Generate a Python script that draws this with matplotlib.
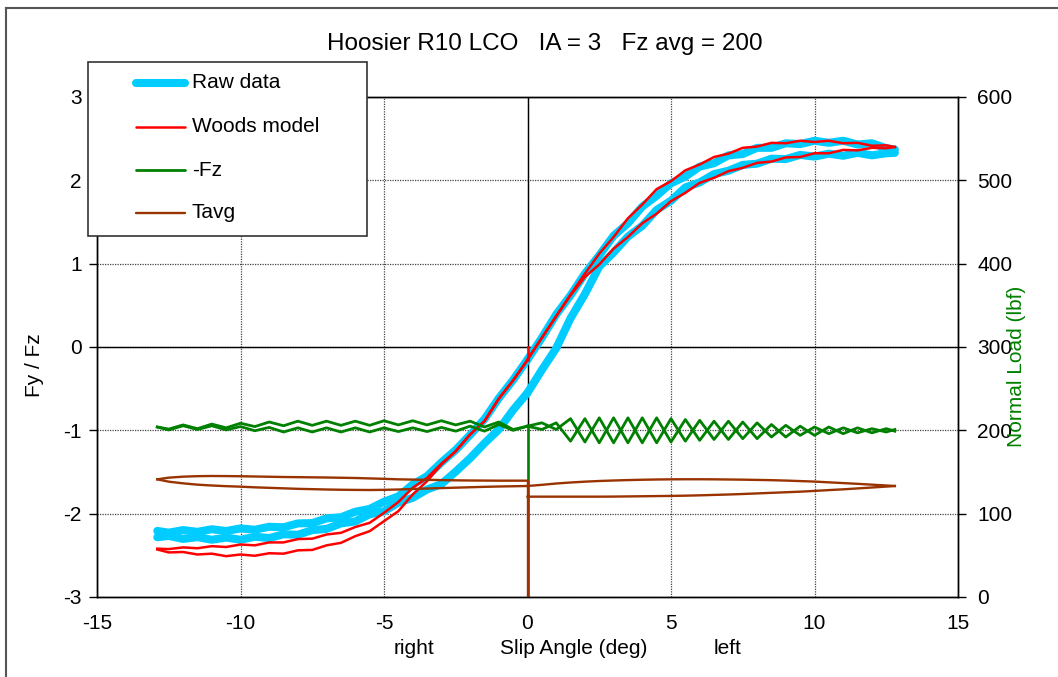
import matplotlib
matplotlib.use("Agg")
import matplotlib.pyplot as plt
from matplotlib.lines import Line2D
from matplotlib.patches import Rectangle

plt.rcParams['font.family'] = ['Liberation Sans', 'DejaVu Sans']
plt.rcParams['axes.unicode_minus'] = False

# ---------------- data ----------------
title = "Hoosier R10 LCO   IA = 3   Fz avg = 200"

sa_left = [-12.9, -12.5, -12.0, -11.5, -11.0, -10.5, -10.0, -9.5, -9.0, -8.5, -8.0, -7.5,
           -7.0, -6.5, -6.0, -5.5, -5.0, -4.5, -4.0, -3.5, -3.0, -2.5, -2.0, -1.5, -1.0, -0.5, 0.0]
sa_right = [0.0, 0.5, 1.0, 1.5, 2.0, 2.5, 3.0, 3.5, 4.0, 4.5, 5.0, 5.5, 6.0, 6.5, 7.0, 7.5,
            8.0, 8.5, 9.0, 9.5, 10.0, 10.5, 11.0, 11.5, 12.0, 12.5, 12.8]

# Raw data Fy/Fz, upper branch (A) and lower branch (B)
raw_a_left = [-2.207, -2.228, -2.197, -2.218, -2.187, -2.208, -2.177, -2.193, -2.157, -2.163, -2.117,
              -2.113, -2.057, -2.043, -1.977, -1.943, -1.857, -1.793, -1.65, -1.55, -1.385, -1.235,
              -1.055, -0.865, -0.615, -0.395, -0.15]
raw_b_left = [-2.283, -2.267, -2.303, -2.282, -2.313, -2.287, -2.313, -2.277, -2.293, -2.247, -2.253,
              -2.197, -2.183, -2.117, -2.093, -2.007, -1.973, -1.867, -1.81, -1.71, -1.645, -1.495,
              -1.335, -1.155, -0.99, -0.755, -0.55]
raw_a_right = [-0.15, 0.11, 0.39, 0.62, 0.88, 1.10, 1.335, 1.485, 1.685, 1.815, 1.965, 2.045, 2.165,
               2.205, 2.30, 2.315, 2.39, 2.39, 2.445, 2.435, 2.475, 2.45, 2.475, 2.43, 2.445, 2.385, 2.37]
raw_b_right = [-0.55, -0.275, -0.015, 0.345, 0.635, 0.965, 1.135, 1.325, 1.455, 1.645, 1.755, 1.915,
               1.975, 2.075, 2.115, 2.185, 2.20, 2.26, 2.255, 2.305, 2.285, 2.32, 2.295, 2.33, 2.30,
               2.325, 2.33]

# Woods model Fy/Fz
model_a_left = [-2.42, -2.425, -2.405, -2.415, -2.39, -2.40, -2.37, -2.38, -2.345, -2.345, -2.305,
                -2.30, -2.25, -2.23, -2.16, -2.11, -1.99, -1.86, -1.69, -1.57, -1.40, -1.25, -1.05,
                -0.89, -0.62, -0.40, -0.156]
model_b_left = [-2.43, -2.465, -2.46, -2.49, -2.48, -2.51, -2.49, -2.505, -2.475, -2.48, -2.44,
                -2.435, -2.38, -2.35, -2.27, -2.21, -2.09, -1.97, -1.77, -1.61, -1.41, -1.25, -1.05,
                -0.89, -0.62, -0.40, -0.156]
model_a_right = [-0.15, 0.11, 0.37, 0.63, 0.88, 1.12, 1.32, 1.545, 1.71, 1.895, 1.99, 2.12, 2.19,
                 2.28, 2.32, 2.39, 2.405, 2.45, 2.445, 2.475, 2.46, 2.475, 2.445, 2.45, 2.415, 2.42, 2.40]
model_b_right = [-0.15, 0.11, 0.37, 0.62, 0.84, 0.99, 1.18, 1.32, 1.485, 1.60, 1.75, 1.85, 1.97,
                 2.03, 2.11, 2.15, 2.21, 2.225, 2.275, 2.28, 2.325, 2.325, 2.365, 2.36, 2.39, 2.385, 2.40]

# -Fz (lbf), two passes
fz_a_left = [204, 201.5, 206.5, 202, 207.5, 203, 208.5, 204.5, 210, 205.5, 211, 206, 211, 206, 211,
             206, 211.5, 206.5, 211.5, 206.5, 211.5, 206.5, 211, 204, 210, 201, 205]
fz_b_left = [204, 200.5, 205.5, 201, 205.5, 200.5, 204.5, 199.5, 203.5, 198, 203, 198, 203, 198, 203,
             198, 203, 198.5, 203, 198.5, 203.5, 199, 205, 199, 207, 200, 205]
fz_a_right = [205, 209, 201, 214, 186, 215, 185, 215, 185, 215, 186, 213, 188, 211, 189, 210, 190,
              207, 192, 205, 194, 204, 196, 203, 197, 202, 199]
fz_b_right = [205, 201, 209, 187, 214, 185, 215, 185, 215, 185, 214, 187, 212, 189, 211, 190, 209,
              192, 206, 194, 204, 196, 203, 197, 202, 198, 201]

# Tavg, two passes
tavg_a_left = [141.2, 138.4, 136.4, 134.8, 133.8, 133.0, 132.4, 131.6, 131.0, 130.4, 129.8, 129.4,
               129.0, 128.7, 128.5, 128.4, 128.6, 129.0, 129.6, 130.2, 130.7, 131.2, 131.7, 132.2,
               132.6, 132.9, 133.2]
tavg_a_right = [133.2, 134.6, 136.2, 137.4, 138.4, 139.2, 139.8, 140.3, 140.7, 141.0, 141.2, 141.3,
                141.3, 141.2, 141.0, 140.8, 140.5, 140.2, 139.7, 139.1, 138.5, 137.6, 136.7, 135.8,
                134.8, 133.8, 133.2]
tavg_b_left = [141.2, 143.2, 144.4, 145.0, 145.2, 145.1, 144.9, 144.6, 144.3, 144.0, 143.8, 143.6,
               143.4, 143.1, 142.8, 142.3, 141.8, 141.2, 140.9, 140.6, 140.3, 140.0, 139.8, 139.7,
               139.6, 139.6, 139.6]
tavg_b_right = [120.4, 120.4, 120.4, 120.4, 120.4, 120.4, 120.5, 120.7, 120.9, 121.1, 121.3, 121.6,
                122.0, 122.5, 123.0, 123.6, 124.3, 125.0, 125.7, 126.4, 127.3, 128.3, 129.2, 130.3,
                131.4, 132.5, 133.2]

# final (zero-load) sample of the run
end_slip = 0.0
end_model = 0.0
end_fz = 0.0
end_tavg = 0.0

x_ticks = [-15, -10, -5, 0, 5, 10, 15]
y_ticks = [-3, -2, -1, 0, 1, 2, 3]
y2_ticks = [0, 100, 200, 300, 400, 500, 600]
legend_labels = ["Raw data", "Woods model", "-Fz", "Tavg"]

# ---------------- styling ----------------
C_RAW = '#00CCFF'
C_MOD = '#FF0000'
C_FZ = '#008000'
C_T = '#993300'
FS = 15

W, H = 1058, 677
fig = plt.figure(figsize=(W / 100, H / 100), dpi=100)
L, R, T, B = 97, 958, 97, 597
ax = fig.add_axes([L / W, 1 - B / H, (R - L) / W, (B - T) / H])
ax.set_xlim(-15, 15)
ax.set_ylim(-3, 3)
ax.set_xticks(x_ticks)
ax.set_yticks(y_ticks)
ax.set_axisbelow(True)
ax.grid(True, ls=(0, (1, 1)), color='#444444', lw=0.9)
ax.axhline(0, color='black', lw=1.0, zorder=0.8)
ax.axvline(0, color='black', lw=1.0, zorder=0.8)

for sa, ys in ((sa_left, raw_a_left), (sa_left, raw_b_left), (sa_right, raw_a_right), (sa_right, raw_b_right)):
    ax.plot(sa, ys, color=C_RAW, lw=5.8, solid_capstyle='round', solid_joinstyle='round', zorder=2)
for sa, ys in ((sa_left, model_a_left), (sa_left, model_b_left), (sa_right, model_a_right), (sa_right, model_b_right)):
    ax.plot(sa, ys, color=C_MOD, lw=1.8, zorder=3)
ax.plot([sa_left[-1], end_slip], [model_a_left[-1], end_model], color=C_MOD, lw=1.8, zorder=3)

ax2 = ax.twinx()
ax2.set_ylim(0, 600)
ax2.set_yticks(y2_ticks)
for sa, ys in ((sa_left, fz_a_left), (sa_left, fz_b_left), (sa_right, fz_a_right), (sa_right, fz_b_right)):
    ax2.plot(sa, ys, color=C_FZ, lw=2.0)
ax2.plot([sa_left[-1], end_slip], [fz_b_left[-1], end_fz], color=C_FZ, lw=1.8)
for sa, ys in ((sa_left, tavg_a_left), (sa_right, tavg_a_right), (sa_left, tavg_b_left), (sa_right, tavg_b_right)):
    ax2.plot(sa, ys, color=C_T, lw=1.7)
ax2.plot([sa_left[-1], end_slip], [tavg_b_left[-1], end_tavg], color=C_T, lw=1.7)

for a in (ax, ax2):
    for s in a.spines.values():
        s.set_color('black')
        s.set_linewidth(1.0)
ax.tick_params(axis='x', length=0, pad=12, labelsize=FS)
ax.tick_params(axis='y', direction='out', length=6, width=1, pad=5, labelsize=FS)
ax2.tick_params(axis='y', direction='out', length=6, width=1, pad=8, labelsize=FS)

ax.set_xlabel("Slip Angle (deg)", fontsize=FS)
ax.xaxis.set_label_coords((574 - L) / (R - L), (B - 648) / (B - T))
ax.xaxis.label.set_va('center')
ax.text((414 - L) / (R - L), (B - 648) / (B - T), "right", transform=ax.transAxes,
        ha='center', va='center', fontsize=FS)
ax.text((728 - L) / (R - L), (B - 648) / (B - T), "left", transform=ax.transAxes,
        ha='center', va='center', fontsize=FS)
ax.set_ylabel("Fy / Fz", fontsize=FS)
ax.yaxis.set_label_coords((35 - L) / (R - L), (B - 365) / (B - T))
ax.yaxis.label.set_va('center')
ax.yaxis.label.set_ha('center')
ax2.set_ylabel("Normal Load (lbf)", fontsize=FS, color=C_FZ)
ax2.yaxis.set_label_coords((1017 - L) / (R - L), (B - 366) / (B - T))
ax2.yaxis.label.set_va('center')
ax2.yaxis.label.set_ha('center')

fig.text(545 / W, 1 - 44 / H, title, ha='center', va='center', fontsize=17.5)

# legend box
lx0, ly0, lx1, ly1 = 88, 62, 367, 236
fig.add_artist(Rectangle((lx0 / W, 1 - ly1 / H), (lx1 - lx0) / W, (ly1 - ly0) / H,
                         transform=fig.transFigure, facecolor='white', edgecolor='#333333',
                         lw=1.2, zorder=10))
entries = [(C_RAW, 5.8, 83), (C_MOD, 1.8, 127), (C_FZ, 2.0, 170), (C_T, 1.7, 213)]
for (c, lw, yy), lab in zip(entries, legend_labels):
    fig.add_artist(Line2D([136 / W, 185 / W], [1 - yy / H, 1 - yy / H], transform=fig.transFigure,
                          color=c, lw=lw, solid_capstyle='round', zorder=11))
    fig.text(192 / W, 1 - yy / H, lab, ha='left', va='center', fontsize=FS, zorder=12)

# outer frame
fig.add_artist(Line2D([6 / W, 6 / W], [0, 1 - 8 / H], transform=fig.transFigure, color='#555555', lw=1.5))
fig.add_artist(Line2D([6 / W, 1], [1 - 8 / H, 1 - 8 / H], transform=fig.transFigure, color='#555555', lw=1.5))

fig.savefig("out.png", dpi=100)
